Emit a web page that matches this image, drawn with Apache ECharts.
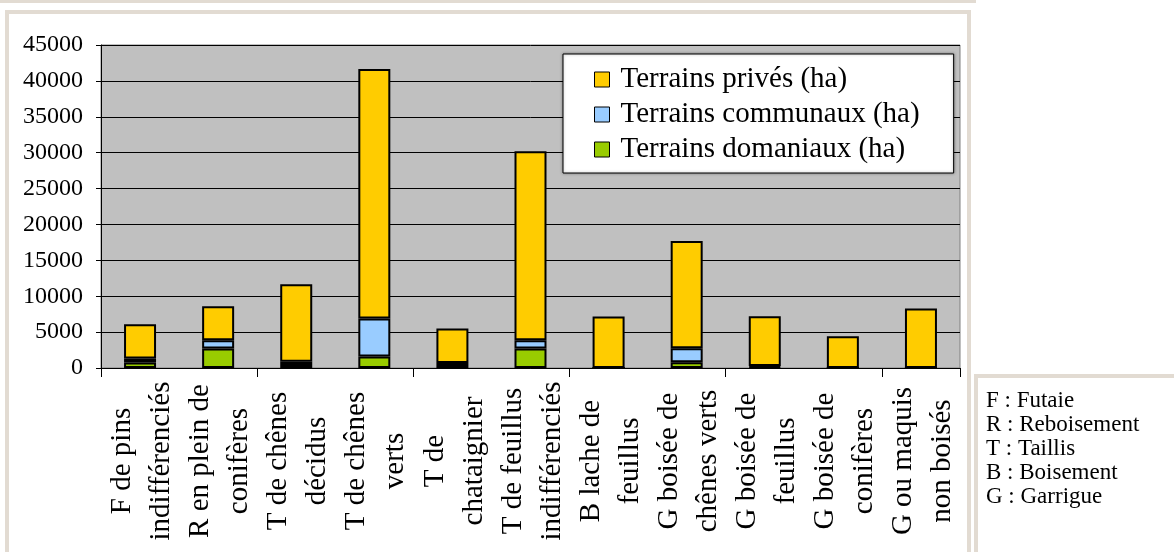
<!DOCTYPE html>
<html lang="fr">
<head>
    <meta charset="UTF-8"/>
    <script src="https://cdn.jsdelivr.net/npm/echarts@6/dist/echarts.min.js"></script>
    <title>terrains</title>
    <style>
        html, body {margin: 0; padding: 0; background: #fff;}
    </style>
</head>
<body>
<div id="main" style="width: 1174px;height:552px;"></div>
<script type="text/javascript">
    // categories (two lines each, as in the original)
    var categories = [
        'F de pins\nindifférenciés', 'R en plein de\nconifères', 'T de chênes\ndécidus',
        'T de chênes\nverts', 'T de\nchataignier', 'T de feuillus\nindifférenciés',
        'B lache de\nfeuillus', 'G boisée de\nchênes verts', 'G boisée de\nfeuillus',
        'G boisée de\nconifères', 'G ou maquis\nnon boisés'
    ];
    // surfaces in ha
    var domaniaux = [780, 2700, 420, 1600, 280, 2700, 0, 800, 120, 0, 0];
    var communaux = [550, 1150, 450, 5300, 420, 1150, 0, 1950, 150, 0, 0];
    var prives = [4770, 4750, 10800, 34770, 4800, 26350, 7170, 14960, 6950, 4440, 8280];
    var abbreviations = ['F : Futaie', 'R : Reboisement', 'T : Taillis', 'B : Boisement', 'G : Garrigue'];

    var myChart = echarts.init(document.getElementById('main'));
    var serif = 'Liberation Serif';
    var frame = '#e2dbd2';

    function barSeries(name, data, color) {
        return {
            name: name,
            type: 'bar',
            stack: 'total',
            barWidth: 32,
            data: data,
            itemStyle: {color: color, borderColor: '#000', borderWidth: 2},
            emphasis: {disabled: true}
        };
    }

    var decor = [
        {id: 'strip', type: 'rect', shape: {x: 0, y: 0, width: 976, height: 3}, style: {fill: frame}},
        {id: 'frame', type: 'rect', shape: {x: 7, y: 12, width: 962, height: 560}, style: {fill: 'none', stroke: frame, lineWidth: 4}},
        {id: 'sidebox', type: 'rect', shape: {x: 976, y: 376, width: 200, height: 180}, style: {fill: '#fff', stroke: frame, lineWidth: 4}}
    ];
    for (var i = 0; i < abbreviations.length; i++) {
        decor.push({
            id: 'abbr' + i,
            type: 'text',
            x: 986,
            y: 401 + i * 24,
            style: {text: abbreviations[i], font: '23px ' + serif, fill: '#000', verticalAlign: 'middle'}
        });
    }

    var option = {
        animation: false,
        backgroundColor: '#fff',
        graphic: decor,
        grid: {
            left: 101, top: 45, width: 859, bottom: 184,
            show: true, backgroundColor: '#c0c0c0', borderColor: '#808080', borderWidth: 1
        },
        legend: {
            orient: 'vertical',
            left: 563, top: 54,
            padding: [10, 34, 8, 31],
            itemGap: 4,
            icon: 'rect',
            itemWidth: 15, itemHeight: 15,
            backgroundColor: '#fff',
            borderColor: '#000', borderWidth: 1,
            shadowColor: 'rgba(0,0,0,0.35)', shadowBlur: 3,
            itemStyle: {borderColor: '#000', borderWidth: 1},
            textStyle: {fontFamily: serif, fontSize: 29, lineHeight: 31, color: '#000', padding: [0, 0, 0, 6]},
            data: ['Terrains privés (ha)', 'Terrains communaux (ha)', 'Terrains domaniaux (ha)']
        },
        xAxis: {
            type: 'category',
            data: categories,
            axisLine: {lineStyle: {color: '#000', width: 1}},
            axisTick: {show: true, length: 9, lineStyle: {color: '#000'}},
            axisLabel: {show: false}
        },
        yAxis: {
            type: 'value',
            min: 0, max: 45000, interval: 5000,
            axisLine: {show: true, lineStyle: {color: '#000'}},
            axisTick: {show: true, length: 5, lineStyle: {color: '#000'}},
            axisLabel: {
                margin: 18, fontFamily: serif, fontSize: 24, color: '#000',
                formatter: function (v) { return String(v); }
            },
            splitLine: {lineStyle: {color: '#000', width: 1}}
        },
        series: [
            barSeries('Terrains domaniaux (ha)', domaniaux, '#99cc00'),
            barSeries('Terrains communaux (ha)', communaux, '#99ccff'),
            barSeries('Terrains privés (ha)', prives, '#ffcc00')
        ]
    };

    myChart.setOption(option);

    // category labels: vertical text, lines centred on each other
    var labels = [];
    categories.forEach(function (cat, idx) {
        var cx = myChart.convertToPixel({xAxisIndex: 0}, idx);
        var lines = cat.split('\n');
        lines.forEach(function (line, k) {
            labels.push({
                id: 'cat' + idx + '_' + k,
                type: 'text',
                x: cx + 2 + (k - (lines.length - 1) / 2) * 39,
                y: 461,
                rotation: Math.PI / 2,
                style: {
                    text: line, font: '29px ' + serif, fill: '#000',
                    align: 'center', verticalAlign: 'middle'
                }
            });
        });
    });
    myChart.setOption({graphic: decor.concat(labels)});
</script>
</body>
</html>
